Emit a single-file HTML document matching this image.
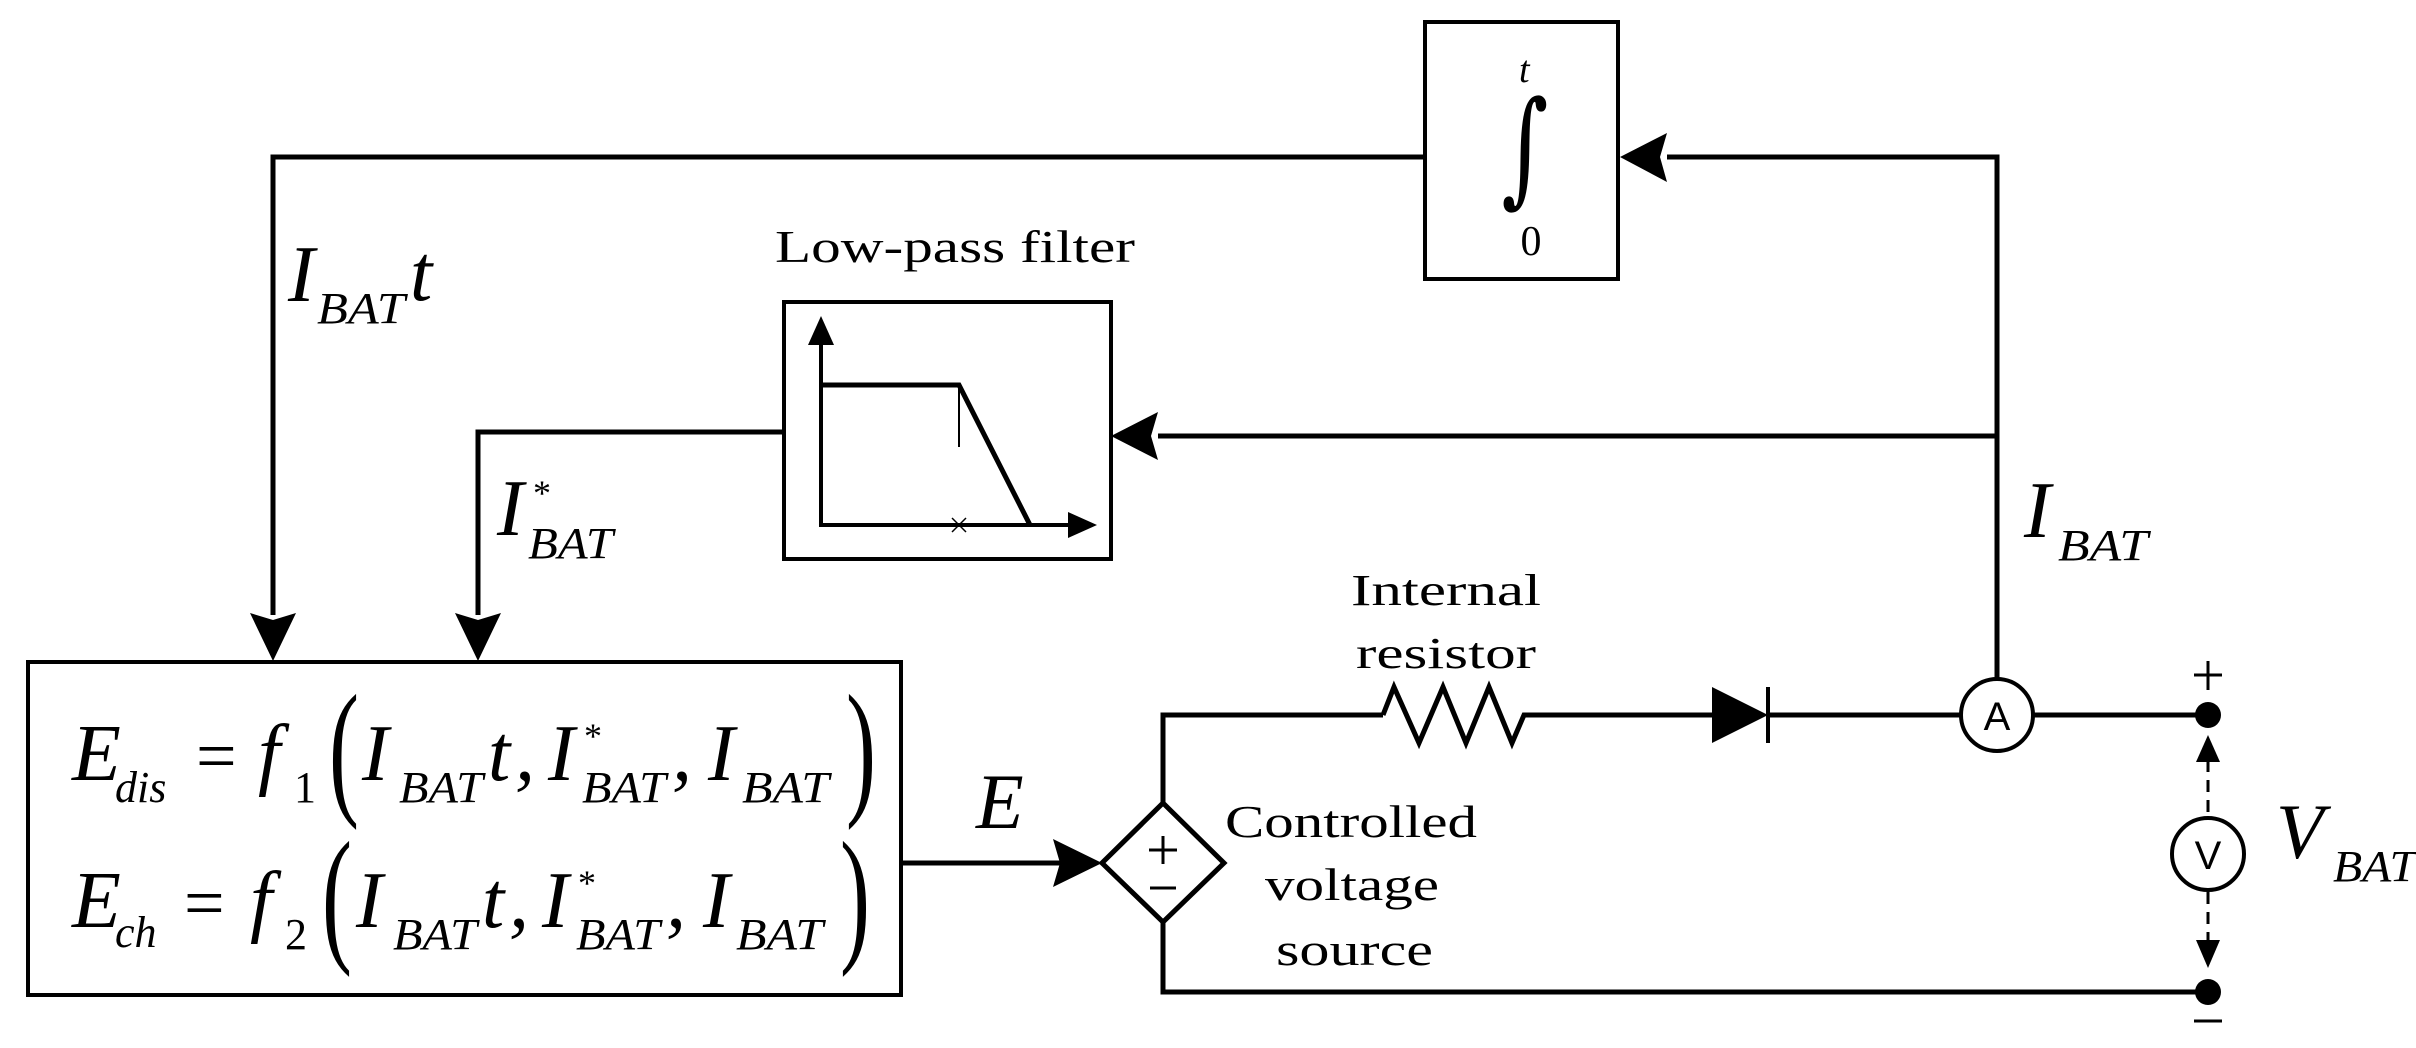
<!DOCTYPE html>
<html><head><meta charset="utf-8"><style>
html,body{margin:0;padding:0;background:#fff;}
svg{display:block;}
text{font-family:"Liberation Serif",serif;fill:#000;}
.m{font-style:italic;}
.s{font-family:"Liberation Sans",sans-serif;}
</style></head><body>
<svg width="2416" height="1048" viewBox="0 0 2416 1048" xmlns="http://www.w3.org/2000/svg">
<g fill="none" stroke="#000" stroke-width="5">
  <polyline points="1425,157 273,157 273,615"/>
  <polyline points="1667,157 1997,157 1997,680"/>
  <rect x="1425" y="22" width="193" height="257" stroke-width="4"/>
  <polyline points="786,432 478,432 478,615"/>
  <line x1="1158" y1="436" x2="1997" y2="436"/>
  <rect x="784" y="302" width="327" height="257" stroke-width="4"/>
  <rect x="28" y="662" width="873" height="333" stroke-width="4"/>
  <line x1="901" y1="863" x2="1060" y2="863"/>
  <polyline points="1163,803 1163,715 1383,715"/>
  <polyline points="1383,715 1394,687 1419,743 1443,687 1466,743 1489,687 1512,743 1524,715 1712,715"/>
  <line x1="1768" y1="715" x2="1961" y2="715"/>
  <line x1="2033" y1="715" x2="2208" y2="715"/>
  <polyline points="1163,922 1163,992 2208,992"/>
  <polygon points="1163,803 1224,863 1163,922 1102,863"/>
  <line x1="1149" y1="850" x2="1177" y2="850" stroke-width="3"/>
  <line x1="1163" y1="836" x2="1163" y2="864" stroke-width="3"/>
  <line x1="1150" y1="888" x2="1176" y2="888" stroke-width="3"/>
  <circle cx="1997" cy="715" r="36" stroke-width="4"/>
  <circle cx="2208" cy="854" r="36" stroke-width="4"/>
  <line x1="2194" y1="675" x2="2222" y2="675" stroke-width="3"/>
  <line x1="2208" y1="661" x2="2208" y2="690" stroke-width="3"/>
  <line x1="2194" y1="1021" x2="2222" y2="1021" stroke-width="3"/>
  <line x1="2208" y1="760" x2="2208" y2="818" stroke-width="3" stroke-dasharray="12,8"/>
  <line x1="2208" y1="892" x2="2208" y2="942" stroke-width="3" stroke-dasharray="12,8"/>
  <line x1="1768" y1="687" x2="1768" y2="743" stroke-width="4"/>
  <polyline points="821,340 821,525 1072,525" stroke-width="4"/>
  <polyline points="821,385 959,385 1030,525" stroke-width="5"/>
  <line x1="959" y1="385" x2="959" y2="447" stroke-width="2"/>
  <line x1="952" y1="518" x2="966" y2="532" stroke-width="1.5"/>
  <line x1="966" y1="518" x2="952" y2="532" stroke-width="1.5"/>
</g>
<g fill="#000">
  <polygon points="1620,157 1667,133 1660,157 1667,182"/>
  <polygon points="1111,436 1158,412 1151,436 1158,460"/>
  <polygon points="273,661 250,613 273,620 296,613"/>
  <polygon points="478,661 455,613 478,620 501,613"/>
  <polygon points="1102,863 1053,839 1060,863 1053,887"/>
  <polygon points="821,316 808,345 834,345"/>
  <polygon points="1097,525 1068,512 1068,538"/>
  <polygon points="1712,687 1768,715 1712,743"/>
  <circle cx="2208" cy="715" r="13"/>
  <circle cx="2208" cy="992" r="13"/>
  <polygon points="2208,735 2196,762 2220,762"/>
  <polygon points="2208,968 2196,940 2220,940"/>
</g>
<text x="1519" y="82" font-size="38" class="m">t</text>
<text transform="translate(1525,190) scale(0.9,1.25)" font-size="100" text-anchor="middle" style="font-family:'DejaVu Serif',serif">∫</text>
<text x="1531" y="255" font-size="42" text-anchor="middle">0</text>
<text x="775" y="262" font-size="46" textLength="360" lengthAdjust="spacingAndGlyphs">Low-pass filter</text>
<text x="288" y="301" font-size="80" class="m">I</text>
<text x="317" y="323" font-size="44" class="m" textLength="88" lengthAdjust="spacingAndGlyphs">BAT</text>
<text x="410" y="300" font-size="80" class="m">t</text>
<text x="497" y="535" font-size="80" class="m">I</text>
<text x="533" y="505" font-size="36">*</text>
<text x="528" y="558" font-size="44" class="m" textLength="85" lengthAdjust="spacingAndGlyphs">BAT</text>
<text x="2024" y="537" font-size="80" class="m">I</text>
<text x="2058" y="560" font-size="44" class="m" textLength="90" lengthAdjust="spacingAndGlyphs">BAT</text>
<text x="2276" y="858" font-size="78" class="m">V</text>
<text x="2333" y="881" font-size="44" class="m" textLength="83" lengthAdjust="spacingAndGlyphs">BAT</text>
<text x="976" y="828" font-size="78" class="m">E</text>
<text x="1446" y="605" font-size="44" text-anchor="middle" textLength="190" lengthAdjust="spacingAndGlyphs">Internal</text>
<text x="1446" y="668" font-size="44" text-anchor="middle" textLength="180" lengthAdjust="spacingAndGlyphs">resistor</text>
<text x="1225" y="837" font-size="46" textLength="252" lengthAdjust="spacingAndGlyphs">Controlled</text>
<text x="1265" y="900" font-size="46" textLength="174" lengthAdjust="spacingAndGlyphs">voltage</text>
<text x="1276" y="965" font-size="46" textLength="157" lengthAdjust="spacingAndGlyphs">source</text>
<text x="1997" y="730" font-size="40" text-anchor="middle" class="s">A</text>
<text x="2208" y="869" font-size="40" text-anchor="middle" class="s">V</text>
<text x="72" y="780" font-size="80" class="m">E</text>
<text x="115" y="802" font-size="44" class="m">dis</text>
<text x="196" y="780" font-size="72">=</text>
<text x="258" y="780" font-size="80" class="m">f</text>
<text x="294" y="802" font-size="44">1</text>
<text transform="translate(329,798) scale(0.6,1)" font-size="150">(</text>
<text x="362" y="780" font-size="80" class="m">I</text>
<text x="399" y="802" font-size="44" class="m" textLength="84" lengthAdjust="spacingAndGlyphs">BAT</text>
<text x="488" y="780" font-size="80" class="m">t</text>
<text x="515" y="780" font-size="80" class="m">,</text>
<text x="548" y="780" font-size="80" class="m">I</text>
<text x="584" y="748" font-size="36">*</text>
<text x="582" y="802" font-size="44" class="m" textLength="84" lengthAdjust="spacingAndGlyphs">BAT</text>
<text x="672" y="780" font-size="80" class="m">,</text>
<text x="708" y="780" font-size="80" class="m">I</text>
<text x="742" y="802" font-size="44" class="m" textLength="87" lengthAdjust="spacingAndGlyphs">BAT</text>
<text transform="translate(846,798) scale(0.6,1)" font-size="150">)</text>
<text x="72" y="927" font-size="80" class="m">E</text>
<text x="115" y="947" font-size="44" class="m">ch</text>
<text x="184" y="927" font-size="72">=</text>
<text x="250" y="927" font-size="80" class="m">f</text>
<text x="285" y="949" font-size="44">2</text>
<text transform="translate(322,945) scale(0.6,1)" font-size="150">(</text>
<text x="356" y="927" font-size="80" class="m">I</text>
<text x="393" y="949" font-size="44" class="m" textLength="84" lengthAdjust="spacingAndGlyphs">BAT</text>
<text x="482" y="927" font-size="80" class="m">t</text>
<text x="509" y="927" font-size="80" class="m">,</text>
<text x="542" y="927" font-size="80" class="m">I</text>
<text x="578" y="895" font-size="36">*</text>
<text x="576" y="949" font-size="44" class="m" textLength="84" lengthAdjust="spacingAndGlyphs">BAT</text>
<text x="666" y="927" font-size="80" class="m">,</text>
<text x="703" y="927" font-size="80" class="m">I</text>
<text x="736" y="949" font-size="44" class="m" textLength="87" lengthAdjust="spacingAndGlyphs">BAT</text>
<text transform="translate(840,945) scale(0.6,1)" font-size="150">)</text>
</svg>
</body></html>
